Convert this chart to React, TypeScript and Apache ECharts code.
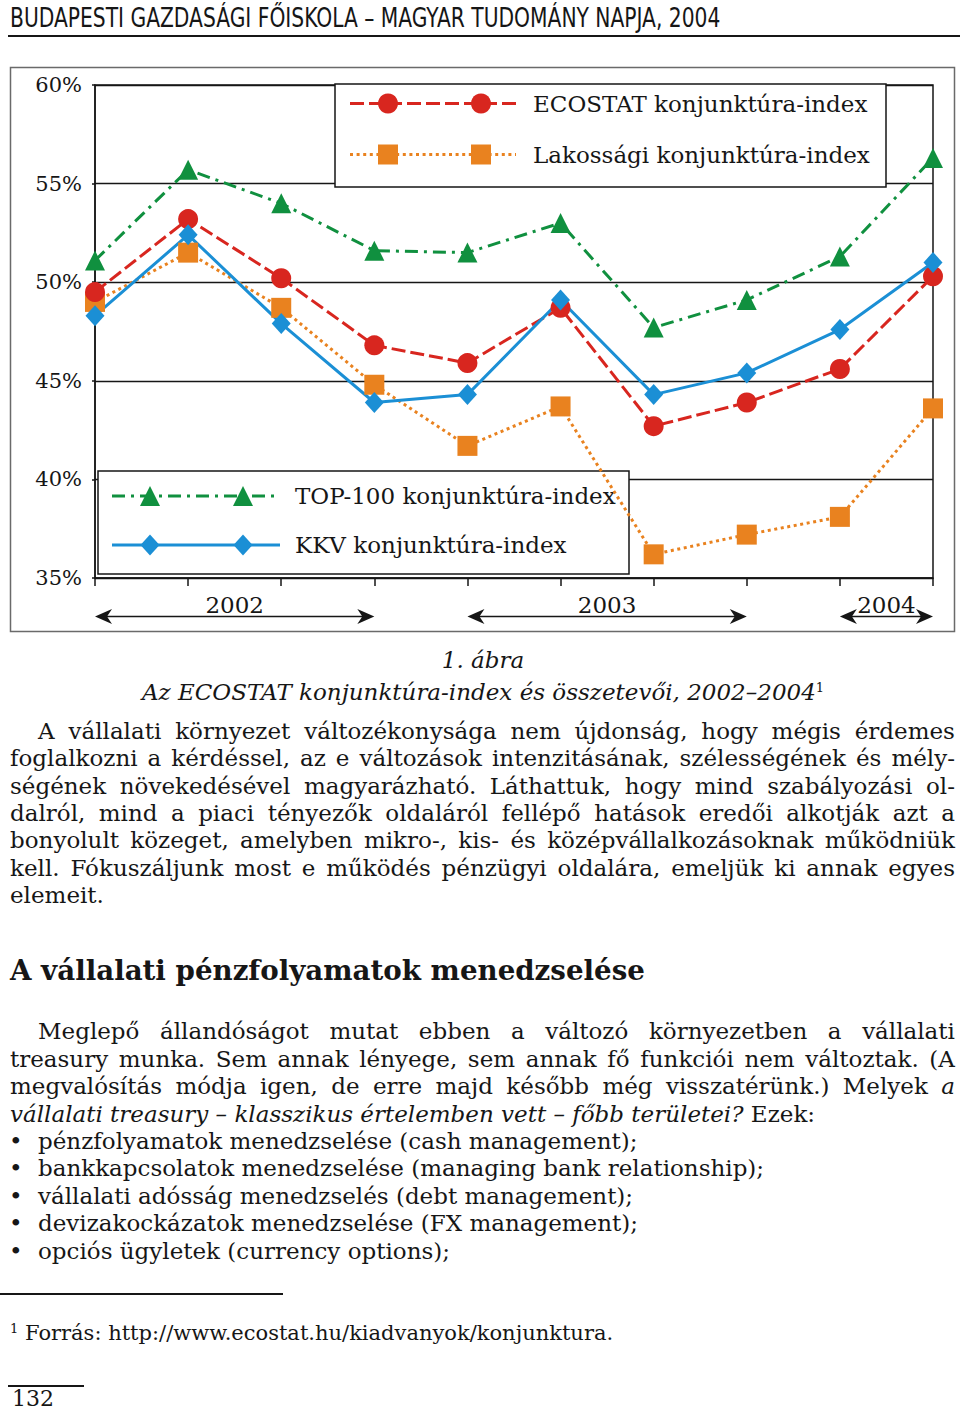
import React, { useEffect, useRef } from "react";
import * as echarts from "echarts";

// ---------- data ----------
const categories = [
  "2002 I.", "2002 II.", "2002 III.", "2002 IV.",
  "2003 I.", "2003 II.", "2003 III.", "2003 IV.",
  "2004 I.", "2004 II.",
];
const seriesNames = [
  "ECOSTAT konjunktúra-index",
  "Lakossági konjunktúra-index",
  "TOP-100 konjunktúra-index",
  "KKV konjunktúra-index",
];
const ecostat = [49.5, 53.2, 50.2, 46.8, 45.9, 48.7, 42.7, 43.9, 45.6, 50.3];
const lakossagi = [49.0, 51.5, 48.7, 44.8, 41.7, 43.7, 36.2, 37.2, 38.1, 43.6];
const top100 = [51.1, 55.7, 54.0, 51.6, 51.5, 53.0, 47.7, 49.1, 51.3, 56.3];
const kkv = [48.3, 52.4, 47.9, 43.9, 44.3, 49.1, 44.3, 45.4, 47.6, 51.0];
const yMin = 35;
const yMax = 60;
const yStep = 5;
const years = ["2002", "2003", "2004"];

// ---------- styles ----------
const SERIF = '"DejaVu Serif", serif';
const INK = "#161616";
const RED = "#d8261f";
const ORANGE = "#e9821f";
const GREEN = "#10903f";
const BLUE = "#1b8fd5";

const seriesStyles = [
  { color: RED, dash: [14, 5] as any, symbol: "circle", size: 20 },
  { color: ORANGE, dash: [3, 3.6] as any, symbol: "rect", size: 20 },
  { color: GREEN, dash: [13, 6, 3, 6] as any, symbol: "triangle", size: 20 },
  { color: BLUE, dash: "solid" as any, symbol: "diamond", size: [19, 21] as any },
];
const seriesData = [ecostat, lakossagi, top100, kkv];
const drawOrder = [1, 2, 0, 3];

function markerGraphic(kind: string, cx: number, cy: number, color: string) {
  const style = { fill: color };
  if (kind === "circle") return { type: "circle", shape: { cx, cy, r: 10 }, style, z: 1, z2: 5 };
  if (kind === "rect") return { type: "rect", shape: { x: cx - 10, y: cy - 10, width: 20, height: 20 }, style, z: 1, z2: 5 };
  if (kind === "triangle")
    return { type: "polygon", shape: { points: [[cx, cy - 10], [cx + 10, cy + 10], [cx - 10, cy + 10]] }, style, z: 1, z2: 5 };
  return { type: "polygon", shape: { points: [[cx, cy - 10.5], [cx + 9.5, cy], [cx, cy + 10.5], [cx - 9.5, cy]] }, style, z: 1, z2: 5 };
}

function Chart() {
  const ref = useRef<HTMLDivElement>(null);
  useEffect(() => {
    const chart = echarts.init(ref.current!, null, { renderer: "svg" });
    chart.setOption({
      animation: false,
      grid: { left: 95, right: 27, top: 25, bottom: 62, show: true, borderColor: INK, borderWidth: 1.5 },
      xAxis: {
        type: "category",
        data: categories,
        boundaryGap: false,
        axisLine: { lineStyle: { color: INK, width: 1.5 } },
        axisTick: { show: true, length: 8, lineStyle: { color: INK, width: 1.5 } },
        axisLabel: { show: false },
        splitLine: { show: false },
      },
      yAxis: {
        type: "value",
        min: yMin,
        max: yMax,
        interval: yStep,
        axisLine: { show: true, lineStyle: { color: INK, width: 1.5 } },
        axisTick: { show: true, length: 3, lineStyle: { color: INK, width: 1.5 } },
        axisLabel: { formatter: "{value}%", fontFamily: SERIF, fontSize: 21, color: INK, margin: 13, padding: [5, 0, 0, 0] },
        splitLine: { lineStyle: { color: INK, width: 1.3 } },
      },
      series: drawOrder.map((i) => ({
        type: "line",
        name: seriesNames[i],
        data: seriesData[i],
        symbol: seriesStyles[i].symbol,
        symbolSize: seriesStyles[i].size,
        showAllSymbol: true,
        itemStyle: { color: seriesStyles[i].color },
        lineStyle: { color: seriesStyles[i].color, width: 3, type: seriesStyles[i].dash },
        z: 2,
      })),
    });

    const px = (i: number) => chart.convertToPixel({ xAxisIndex: 0 }, categories[i]) as number;
    const graphics: any[] = [];
    // outer frame
    graphics.push({
      type: "rect",
      silent: true,
      shape: { x: 10.5, y: 7.5, width: 944, height: 564 },
      style: { fill: "none", stroke: "#6a6a6a", lineWidth: 1.5 },
      z: 0,
    });
    // legend boxes
    const boxes = [
      { x: 335, y: 24, w: 551, h: 103, lx1: 350, lx2: 516, m1: 388, m2: 481, tx: 533, rows: [43.5, 94.5] },
      { x: 98, y: 411, w: 531, h: 103, lx1: 112, lx2: 280, m1: 150, m2: 243, tx: 295, rows: [436, 485] },
    ];
    const legendMap = [
      { box: 0, row: 0, s: 0 },
      { box: 0, row: 1, s: 1 },
      { box: 1, row: 0, s: 2 },
      { box: 1, row: 1, s: 3 },
    ];
    boxes.forEach((b) =>
      graphics.push({
        type: "rect",
        shape: { x: b.x, y: b.y, width: b.w, height: b.h },
        style: { fill: "#fff", stroke: INK, lineWidth: 1.5 },
        z: 1,
        z2: 0,
      })
    );
    legendMap.forEach((l) => {
      const b = boxes[l.box];
      const cy = b.rows[l.row];
      const st = seriesStyles[l.s];
      graphics.push({
        type: "line",
        shape: { x1: b.lx1, y1: cy, x2: b.lx2, y2: cy },
        style: { stroke: st.color, lineWidth: 3, lineDash: st.dash === "solid" ? null : st.dash },
        z: 1,
        z2: 3,
      });
      graphics.push(markerGraphic(st.symbol, b.m1, cy, st.color));
      graphics.push(markerGraphic(st.symbol, b.m2, cy, st.color));
      graphics.push({
        type: "text",
        x: b.tx,
        y: cy,
        style: { text: seriesNames[l.s], fontFamily: SERIF, fontSize: 23, fill: INK, verticalAlign: "middle", align: "left" },
        z: 1,
        z2: 6,
      });
    });
    // year spans with arrows
    const arrowY = 556.5;
    years.forEach((yr) => {
      const idx = categories.map((c, i) => (c.startsWith(yr) ? i : -1)).filter((i) => i >= 0);
      const x0 = px(idx[0]);
      const x1 = px(idx[idx.length - 1]);
      graphics.push({
        type: "line",
        shape: { x1: x0 + 8, y1: arrowY, x2: x1 - 8, y2: arrowY },
        style: { stroke: INK, lineWidth: 1.5 },
        z: 1,
      });
      graphics.push({
        type: "polygon",
        shape: { points: [[x0, arrowY], [x0 + 17, arrowY - 7.5], [x0 + 12, arrowY], [x0 + 17, arrowY + 7.5]] },
        style: { fill: INK },
        z: 1,
      });
      graphics.push({
        type: "polygon",
        shape: { points: [[x1, arrowY], [x1 - 17, arrowY - 7.5], [x1 - 12, arrowY], [x1 - 17, arrowY + 7.5]] },
        style: { fill: INK },
        z: 1,
      });
      graphics.push({
        type: "text",
        x: (x0 + x1) / 2,
        y: 545,
        style: { text: yr, fontFamily: SERIF, fontSize: 23, fill: INK, align: "center", verticalAlign: "middle" },
        z: 1,
      });
    });
    chart.setOption({ graphic: { elements: graphics } });
    return () => chart.dispose();
  }, []);
  return <div ref={ref} style={{ position: "absolute", left: 0, top: 60, width: 960, height: 580 }} />;
}

// ---------- page text ----------
type Part = { t: string; i?: boolean };
const P = (t: string, i = false): Part => ({ t, i });

const para1: Part[][] = [
  [P("A vállalati környezet változékonysága nem újdonság, hogy mégis érdemes")],
  [P("foglalkozni a kérdéssel, az e változások intenzitásának, szélességének és mély-")],
  [P("ségének növekedésével magyarázható. Láthattuk, hogy mind szabályozási ol-")],
  [P("dalról, mind a piaci tényezők oldaláról fellépő hatások eredői alkotják azt a")],
  [P("bonyolult közeget, amelyben mikro-, kis- és középvállalkozásoknak működniük")],
  [P("kell. Fókuszáljunk most e működés pénzügyi oldalára, emeljük ki annak egyes")],
  [P("elemeit.")],
];
const para1Y = [731, 758.3, 785.6, 812.9, 840.2, 867.5, 894.8];
const para2: Part[][] = [
  [P("Meglepő állandóságot mutat ebben a változó környezetben a vállalati")],
  [P("treasury munka. Sem annak lényege, sem annak fő funkciói nem változtak. (A")],
  [P("megvalósítás módja igen, de erre majd később még visszatérünk.) Melyek"), P("a", true)],
  [P("vállalati treasury – klasszikus értelemben vett – főbb területei?", true), P(" Ezek:")],
];
const para2Y = [1031, 1058.5, 1086, 1113.5];
const bullets = [
  "pénzfolyamatok menedzselése (cash management);",
  "bankkapcsolatok menedzselése (managing bank relationship);",
  "vállalati adósság menedzselés (debt management);",
  "devizakockázatok menedzselése (FX management);",
  "opciós ügyletek (currency options);",
];
const bulletY = [1140.5, 1168, 1195.5, 1223, 1250.5];

const LH = 28;

function TextLine({ y, x, w, parts, justify, size = 23 }: { y: number; x: number; w: number; parts: Part[]; justify: boolean; size?: number }) {
  const base: React.CSSProperties = {
    position: "absolute",
    left: x,
    top: y - LH / 2,
    height: LH,
    lineHeight: LH + "px",
    fontSize: size,
    fontFamily: SERIF,
    color: INK,
    whiteSpace: "pre",
  };
  if (justify) {
    const words: Part[] = [];
    parts.forEach((p) => p.t.split(" ").filter(Boolean).forEach((t) => words.push({ t, i: p.i })));
    return (
      <div style={{ ...base, width: w, display: "flex", justifyContent: "space-between" }}>
        {words.map((wd, k) => (
          <span key={k} style={{ fontStyle: wd.i ? "italic" : "normal" }}>{wd.t}</span>
        ))}
      </div>
    );
  }
  return (
    <div style={base}>
      {parts.map((p, k) => (
        <span key={k} style={{ fontStyle: p.i ? "italic" : "normal" }}>{p.t}</span>
      ))}
    </div>
  );
}

export default function App() {
  const L = 10;
  const R = 955;
  return (
    <div style={{ position: "absolute", left: 0, top: 0, width: 960, height: 1414, background: "#fff", overflow: "hidden" }}>
      <div
        style={{
          position: "absolute",
          left: 10,
          top: 2,
          fontFamily: '"Liberation Sans Narrow", "DejaVu Sans Condensed", sans-serif',
          fontSize: 26,
          lineHeight: "32px",
          color: INK,
          whiteSpace: "nowrap",
          transform: "scaleX(0.866)",
          transformOrigin: "0 0",
        }}
      >
        BUDAPESTI GAZDASÁGI FŐISKOLA – MAGYAR TUDOMÁNY NAPJA, 2004
      </div>
      <div style={{ position: "absolute", left: 8, top: 35, width: 952, height: 2, background: INK }} />
      <Chart />
      <div style={{ position: "absolute", left: 0, width: 966, top: 660 - LH / 2, lineHeight: LH + "px", textAlign: "center", fontFamily: SERIF, fontSize: 23, fontStyle: "italic", color: INK }}>
        1. ábra
      </div>
      <div style={{ position: "absolute", left: 0, width: 966, top: 688 - LH / 2, lineHeight: LH + "px", textAlign: "center", fontFamily: SERIF, fontSize: 23, fontStyle: "italic", color: INK, whiteSpace: "nowrap" }}>
        Az ECOSTAT konjunktúra-index és összetevői, 2002–2004<sup style={{ fontSize: 13, verticalAlign: "8px", fontStyle: "normal" }}>1</sup>
      </div>
      {para1.map((parts, k) => (
        <TextLine key={"a" + k} y={para1Y[k]} x={k === 0 ? 38 : L} w={k === 0 ? R - 38 : R - L} parts={parts} justify={k < para1.length - 1} />
      ))}
      <div style={{ position: "absolute", left: 10, top: 971 - 17, lineHeight: "34px", fontFamily: SERIF, fontSize: 27.7, fontWeight: "bold", color: INK, whiteSpace: "nowrap" }}>
        A vállalati pénzfolyamatok menedzselése
      </div>
      {para2.map((parts, k) => (
        <TextLine key={"b" + k} y={para2Y[k]} x={k === 0 ? 38 : L} w={k === 0 ? R - 38 : R - L} parts={parts} justify={k < para2.length - 1} />
      ))}
      {bullets.map((b, k) => (
        <React.Fragment key={"c" + k}>
          <TextLine y={bulletY[k]} x={9} w={20} parts={[P("•")]} justify={false} />
          <TextLine y={bulletY[k]} x={38} w={R - 38} parts={[P(b)]} justify={false} />
        </React.Fragment>
      ))}
      <div style={{ position: "absolute", left: 0, top: 1293, width: 283, height: 2, background: INK }} />
      <div style={{ position: "absolute", left: 10, top: 1329 - 14, lineHeight: "28px", fontFamily: SERIF, fontSize: 21, color: INK, whiteSpace: "nowrap" }}>
        <sup style={{ fontSize: 13, verticalAlign: "7px" }}>1</sup> Forrás: http://www.ecostat.hu/kiadvanyok/konjunktura.
      </div>
      <div style={{ position: "absolute", left: 8, top: 1385, width: 76, height: 2, background: INK }} />
      <div style={{ position: "absolute", left: 12, top: 1388, lineHeight: "22px", fontFamily: SERIF, fontSize: 22, color: INK }}>132</div>
    </div>
  );
}
